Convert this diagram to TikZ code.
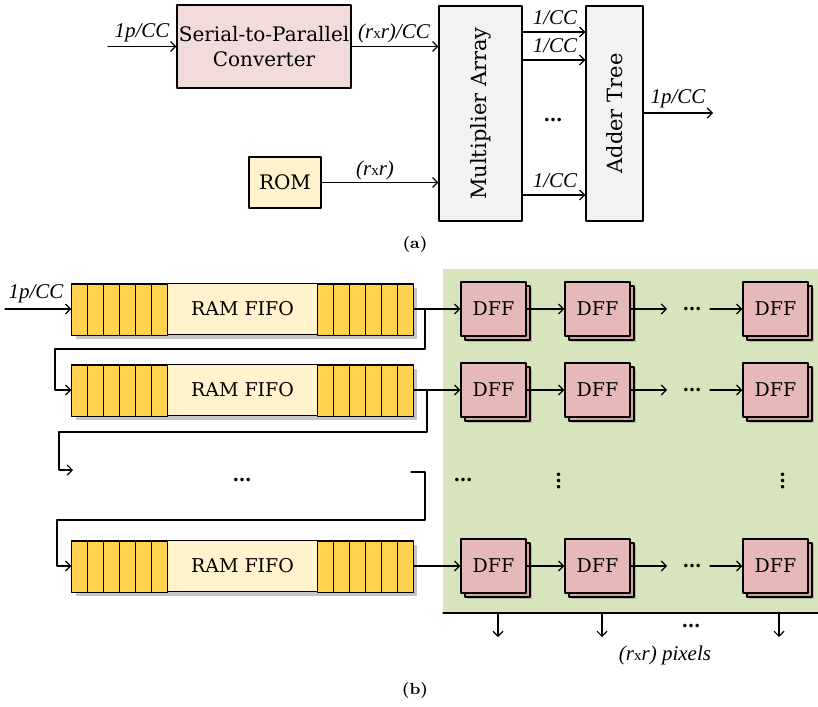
\documentclass[tikz,border=0pt]{standalone}
\usepackage{fontspec}
\newfontfamily\boxfont{DejaVu Serif}
\newfontfamily\lblfont{Liberation Serif}
\usetikzlibrary{shadows,arrows.meta}
\definecolor{convpink}{HTML}{F2DCDB}
\definecolor{blockgray}{HTML}{F2F2F2}
\definecolor{romyellow}{HTML}{FFF2CC}
\definecolor{cellgold}{HTML}{FFD34F}
\definecolor{dffpink}{HTML}{E6B9B8}
\definecolor{dffback}{HTML}{D3A3A2}
\definecolor{bggreen}{HTML}{D7E4BD}
\newcommand{\rxr}{(r{\upshape\fontsize{7.5}{8}\selectfont x}r)}
\tikzset{
  blk/.style={draw,line width=0.6pt,inner sep=0pt,align=center,
    font=\boxfont\fontsize{9.5}{12.5}\selectfont},
  lbl/.style={inner sep=1pt,font=\lblfont\itshape\fontsize{10.5}{11}\selectfont},
  txt/.style={inner sep=0pt,font=\boxfont\fontsize{10.5}{11}\selectfont},
  dotstxt/.style={inner sep=0pt,font=\boxfont\bfseries\fontsize{9.5}{11}\selectfont},
  sig/.style={line width=0.6pt,-{Straight Barb[length=2.5pt,width=5pt]}},
  wire/.style={line width=0.6pt},
  fifo/.style={blk,fill=romyellow,minimum width=170.5pt,minimum height=25.5pt,
    drop shadow={shadow xshift=2pt,shadow yshift=-2pt,opacity=0.45}},
  dff/.style={blk,fill=dffpink,minimum width=32.5pt,minimum height=27pt,
    drop shadow={shadow xshift=3pt,shadow yshift=-3pt,opacity=0.45},
    copy shadow={fill=dffback,draw,line width=0.6pt,shadow xshift=2pt,shadow yshift=-2pt}},
}
\begin{document}
\begin{tikzpicture}[x=0.5pt,y=-0.5pt,line cap=round,line join=round]
  \useasboundingbox (0,0) rectangle (818,706);
  \node[blk,fill=convpink,minimum width=87pt,minimum height=41.5pt,
    font=\boxfont\fontsize{10}{12.5}\selectfont] (conv) at (264,46.5)
    {Serial-to-Parallel\\Converter};
  \node[blk,fill=blockgray,minimum width=41.5pt,minimum height=107.5pt] (mult) at (480.5,113.5) {};
  \node[txt,rotate=90] (multtxt) at (mult.center) {Multiplier Array};
  \node[blk,fill=blockgray,minimum width=28.5pt,minimum height=107.5pt] (adder) at (614.5,113.5) {};
  \node[txt,rotate=90] (addertxt) at (adder.center) {Adder Tree};
  \node[blk,fill=romyellow,minimum width=36pt,minimum height=25.5pt,
    font=\boxfont\fontsize{10}{12}\selectfont] (rom) at (285,182.5) {ROM};
  \coordinate (ain) at (108,46.5);
  \coordinate (aout) at (713,113);
  \draw[sig] (ain) -- (conv.west);
  \node[lbl] (ainlbl) at (142,33) {1p/CC};
  \draw[sig] (conv.east) -- (conv.east -| mult.west);
  \node[lbl] (convlbl) at (394,33) {\rxr/CC};
  \draw[sig] (rom.east) -- (rom.east -| mult.west);
  \node[lbl] (romlbl) at (375,170) {\rxr};
  \foreach \y [count=\i] in {32,60,195} {
    \coordinate (m\i) at (522,\y);
    \draw[sig] (m\i) -- (m\i -| adder.west);
    \node[lbl] (one\i) at (555,\y-14) {1/CC};
  }
  \node[dotstxt] (madots) at (553,120) {\dots};
  \draw[sig] (adder.east |- aout) -- (aout);
  \node[lbl] (aoutlbl) at (678,99) {1p/CC};
  \node[font=\bfseries\fontsize{8}{9}\selectfont] (capa) at (415,244) {(a)};

  \fill[bggreen] (443,269) rectangle (818,613);
  \draw[wire] (443,613) -- (818,613);
  \foreach \y [count=\r] in {309,390,566} {
    \node[fifo] (f\r) at (242.5,\y) {RAM FIFO};
    \foreach \i in {0,...,5} {
      \draw[line width=0.6pt,fill=cellgold] ([xshift=8pt*\i]f\r.south west) rectangle ++(8pt,25.5pt);
      \draw[line width=0.6pt,fill=cellgold] ([xshift=-8pt*\i-8pt]f\r.south east) rectangle ++(8pt,25.5pt);
    }
    \node[dff] (d\r1) at (493.5,\y) {DFF};
    \node[dff] (d\r2) at (597.5,\y) {DFF};
    \node[dff] (d\r3) at (775.5,\y) {DFF};
    \coordinate (e\r) at (667,\y);
    \coordinate (s\r) at (710,\y);
    \draw[sig] (f\r.east) -- (d\r1.west);
    \draw[sig] (d\r1.east) -- (d\r2.west);
    \draw[sig] (d\r2.east) -- (e\r);
    \node[dotstxt] (hd\r) at (692,\y) {\dots};
    \draw[sig] (s\r) -- (d\r3.west);
  }
  \coordinate (in1) at (5,309);
  \draw[sig] (in1) -- (f1.west);
  \node[lbl] (inlbl) at (36,294) {1p/CC};
  \coordinate (t1) at (425,349);
  \coordinate (l1) at (55,349);
  \draw[sig] (f1.east) -| (t1) -- (l1) |- (f2.west);
  \coordinate (t2) at (427,432);
  \coordinate (l2) at (59,432);
  \coordinate (dotin) at (73,470);
  \draw[sig] (f2.east -| t2) -- (t2) -- (l2) |- (dotin);
  \node[dotstxt] (fdots) at (242,480) {\dots};
  \coordinate (dotout) at (411,472);
  \coordinate (t3) at (425,520);
  \coordinate (l3) at (57,520);
  \draw[sig] (dotout) -| (t3) -- (l3) |- (f3.west);
  \node[dotstxt] (ddots) at (463,480) {\dots};
  \node[dotstxt,rotate=90] (vd1) at (559,481) {\dots};
  \node[dotstxt,rotate=90] (vd2) at (783,481) {\dots};
  \foreach \x [count=\i] in {498,602,779} {
    \coordinate (o\i) at (\x,613);
    \draw[sig] (o\i) -- ++(0,24);
  }
  \node[dotstxt] (odots) at (691,626) {\dots};
  \node[lbl] (pixlbl) at (665,655) {\rxr{} pixels};
  \node[font=\bfseries\fontsize{8}{9}\selectfont] (capb) at (415,690) {(b)};
\end{tikzpicture}
\end{document}
